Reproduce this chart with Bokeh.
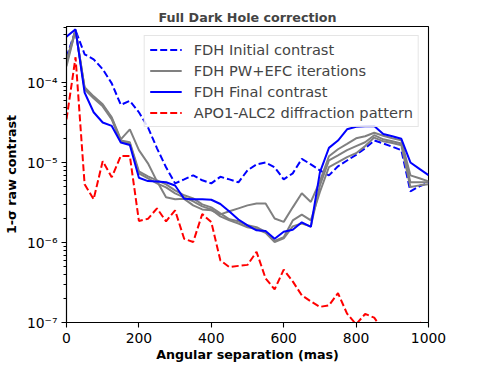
from bokeh.plotting import figure
from bokeh.models import (Range1d, FixedTicker, CustomJSTickFormatter, Legend, LegendItem)
from bokeh.embed import file_html
from bokeh.resources import INLINE

# angular separation (mas)
sep = [0, 25, 50, 75, 100, 125, 150, 175, 200, 225, 250, 275, 300, 325, 350, 375, 400,
       425, 450, 475, 500, 525, 550, 575, 600, 625, 650, 675, 700, 725, 750, 775, 800,
       825, 850, 875, 900, 925, 950, 975, 1000]

fdh_initial = [2.1e-4, 4.57e-4, 2.29e-4, 1.98e-4, 1.49e-4, 9.9e-5, 5.33e-5, 5.98e-5,
               4.3e-5, 2.79e-5, 1.52e-5, 8.8e-6, 5.53e-6, 6.2e-6, 6.97e-6, 6.04e-6, 5.53e-6,
               6.68e-6, 6.2e-6, 5.7e-6, 8.05e-6, 9.57e-6, 1.01e-5, 8.8e-6, 6.2e-6,
               7.38e-6, 1.12e-5, 9.57e-6, 8.05e-6, 6.97e-6, 9.04e-6, 1.07e-5, 1.26e-5,
               1.52e-5, 1.91e-5, 1.75e-5, 1.59e-5, 1.44e-5, 4.4e-6, 5.08e-6, 5.61e-6]

fdh_iter1 = [1.77e-4, 4.57e-4, 8.83e-5, 6.8e-5, 5.41e-5, 3.72e-5, 1.97e-5, 2.63e-5,
             1.44e-5, 9.86e-6, 5.86e-6, 3.7e-6, 3.5e-6, 3.54e-6, 2.93e-6, 2.61e-6, 2.54e-6,
             2.26e-6, 2.47e-6, 2.69e-6, 2.93e-6, 3.1e-6, 3.1e-6, 2.01e-6, 1.82e-6,
             2.77e-6, 4.15e-6, 3.24e-6, 5.86e-6, 1.21e-5, 1.48e-5, 1.73e-5, 2.03e-5,
             2.15e-5, 2.38e-5, 2.18e-5, 2.03e-5, 1.91e-5, 6.97e-6, 6.4e-6, 5.86e-6]

fdh_iter2 = [1.92e-4, 4.57e-4, 8.59e-5, 6.62e-5, 5.26e-5, 3.61e-5, 1.91e-5, 1.81e-5,
             7.82e-6, 6.78e-6, 6.04e-6, 5.38e-6, 4.52e-6, 3.92e-6, 3.59e-6, 3.02e-6, 2.77e-6,
             2.33e-6, 1.96e-6, 1.85e-6, 1.65e-6, 1.56e-6, 1.36e-6, 1.05e-6, 1.17e-6,
             1.9e-6, 2.24e-6, 1.9e-6, 4.31e-6, 8.86e-6, 1.02e-5, 1.18e-5, 1.32e-5,
             1.62e-5, 2.07e-5, 1.86e-5, 1.77e-5, 1.66e-5, 4.97e-6, 5.22e-6, 5.38e-6]

fdh_iter3 = [1.62e-4, 4.57e-4, 8.35e-5, 6.44e-5, 5.1e-5, 3.5e-5, 1.86e-5, 1.75e-5,
             7.4e-6, 6.4e-6, 5.53e-6, 4.92e-6, 4.15e-6, 3.7e-6, 3.3e-6, 2.85e-6, 2.61e-6,
             2.13e-6, 1.9e-6, 1.74e-6, 1.56e-6, 1.48e-6, 1.33e-6, 1.02e-6, 1.13e-6,
             1.6e-6, 1.74e-6, 1.6e-6, 5.2e-6, 1.07e-5, 1.24e-5, 1.44e-5, 1.62e-5,
             1.81e-5, 2.22e-5, 1.97e-5, 1.86e-5, 1.75e-5, 5.7e-6, 5.7e-6, 5.7e-6]

fdh_final = [3.8e-4, 4.7e-4, 7.6e-5, 4.3e-5, 3.2e-5, 2.9e-5, 1.8e-5, 1.67e-5,
             6.5e-6, 5.9e-6, 5.85e-6, 5.7e-6, 5.2e-6, 3.55e-6, 3.5e-6, 3.5e-6, 3.45e-6,
             3.05e-6, 2.45e-6, 1.95e-6, 1.65e-6, 1.43e-6, 1.4e-6, 1.12e-6, 1.37e-6,
             1.45e-6, 1.8e-6, 1.58e-6, 7.6e-6, 1.54e-5, 1.9e-5, 2.63e-5, 2.83e-5,
             2.87e-5, 2.9e-5, 2.3e-5, 2.15e-5, 2.0e-5, 1.01e-5, 8.4e-6, 7.0e-6]

diffraction = [3.5e-5, 2.1e-4, 5.4e-6, 3.5e-6, 1.05e-5, 6.6e-6, 1.22e-5, 1.22e-5,
               1.87e-6, 1.99e-6, 2.69e-6, 1.85e-6, 2.54e-6, 1.12e-6, 1.02e-6, 2.28e-6, 1.81e-6,
               6.0e-7, 4.94e-7, 5.12e-7, 5.27e-7, 7.67e-7, 3.57e-7, 2.6e-7, 4.59e-7,
               3.27e-7, 2.19e-7, 1.84e-7, 1.57e-7, 1.64e-7, 2.33e-7, 1.29e-7, 9.5e-8,
               1.28e-7, 1.15e-7, 8.0e-8, 7.0e-8, 7.3e-8, 8.2e-8, 1.02e-7, 8.0e-8]

legend_labels = ["FDH Initial contrast", "FDH PW+EFC iterations", "FDH Final contrast",
                 "APO1-ALC2 diffraction pattern"]
x_ticks = [0, 200, 400, 600, 800, 1000]
y_ticks = [1e-7, 1e-6, 1e-5, 1e-4]

FONT = "DejaVu Sans"

p = figure(width=491, height=367, output_backend="svg", toolbar_location=None,
           y_axis_type="log", x_range=Range1d(0, 1000), y_range=Range1d(1e-7, 5.1e-4),
           min_border_left=64, min_border_right=63, min_border_top=26, min_border_bottom=45)

p.title.text = "Full Dark Hole correction"
p.title.align = "center"
p.title.text_font = FONT
p.title.text_font_size = "12.7px"
p.title.text_font_style = "bold"
p.title.standoff = 3

p.xgrid.visible = False
p.ygrid.visible = False
p.outline_line_color = "black"
p.outline_line_width = 1.1
p.background_fill_color = "white"
p.border_fill_color = "white"

r_init = p.line(sep, fdh_initial, line_color="#0000ff", line_width=2, line_dash="7 3")
r_it1 = p.line(sep, fdh_iter1, line_color="grey", line_width=2)
r_it2 = p.line(sep, fdh_iter2, line_color="grey", line_width=2)
r_it3 = p.line(sep, fdh_iter3, line_color="grey", line_width=2)
r_final = p.line(sep, fdh_final, line_color="#0000ff", line_width=2)
r_diff = p.line(sep, diffraction, line_color="#ff0000", line_width=2, line_dash="7 3")

legend = Legend(items=[
    LegendItem(label=legend_labels[0], renderers=[r_init]),
    LegendItem(label=legend_labels[1], renderers=[r_it1]),
    LegendItem(label=legend_labels[2], renderers=[r_final]),
    LegendItem(label=legend_labels[3], renderers=[r_diff]),
], location="top_right")
legend.margin = 9
legend.padding = 5
legend.spacing = 4
legend.glyph_width = 32
legend.glyph_height = 17
legend.label_height = 17
legend.label_standoff = 12
legend.label_text_font = FONT
legend.label_text_font_size = "14.6px"
legend.border_line_color = "#cccccc"
legend.border_line_width = 1
legend.background_fill_color = "white"
legend.background_fill_alpha = 0.85
p.add_layout(legend)

for ax in (p.xaxis[0], p.yaxis[0]):
    ax.axis_line_color = "black"
    ax.axis_line_width = 1.1
    ax.major_tick_line_color = "black"
    ax.major_tick_line_width = 1.1
    ax.major_tick_out = 5
    ax.major_tick_in = 0
    ax.minor_tick_in = 0
    ax.major_label_text_font = FONT
    ax.major_label_text_font_size = "13.9px"
    ax.major_label_text_color = "black"
    ax.axis_label_text_font = FONT
    ax.axis_label_text_font_size = "12.7px"
    ax.axis_label_text_font_style = "bold"
    ax.axis_label_text_color = "black"

p.xaxis.ticker = FixedTicker(ticks=x_ticks)
p.xaxis.minor_tick_line_color = None
p.xaxis.axis_label = "Angular separation (mas)"
p.xaxis.major_label_standoff = 5
p.xaxis.axis_label_standoff = 1

minor = [m * 10.0 ** e for e in range(-8, -3) for m in range(2, 10)]
p.yaxis.ticker = FixedTicker(ticks=y_ticks, minor_ticks=minor)
p.yaxis.minor_tick_out = 3
p.yaxis.minor_tick_line_color = "black"
p.yaxis.minor_tick_line_width = 1
p.yaxis.axis_label = "1-σ raw contrast"
p.yaxis.major_label_standoff = 4
p.yaxis.axis_label_standoff = 5
p.yaxis.formatter = CustomJSTickFormatter(code="""
const sup = {'-': '\u207b', '0': '\u2070', '1': '\u00b9', '2': '\u00b2', '3': '\u00b3',
             '4': '\u2074', '5': '\u2075', '6': '\u2076', '7': '\u2077', '8': '\u2078', '9': '\u2079'};
const e = Math.round(Math.log10(tick));
return '10' + String(e).split('').map(c => sup[c]).join('');
""")

open("out.html", "w").write(file_html(p, INLINE))
